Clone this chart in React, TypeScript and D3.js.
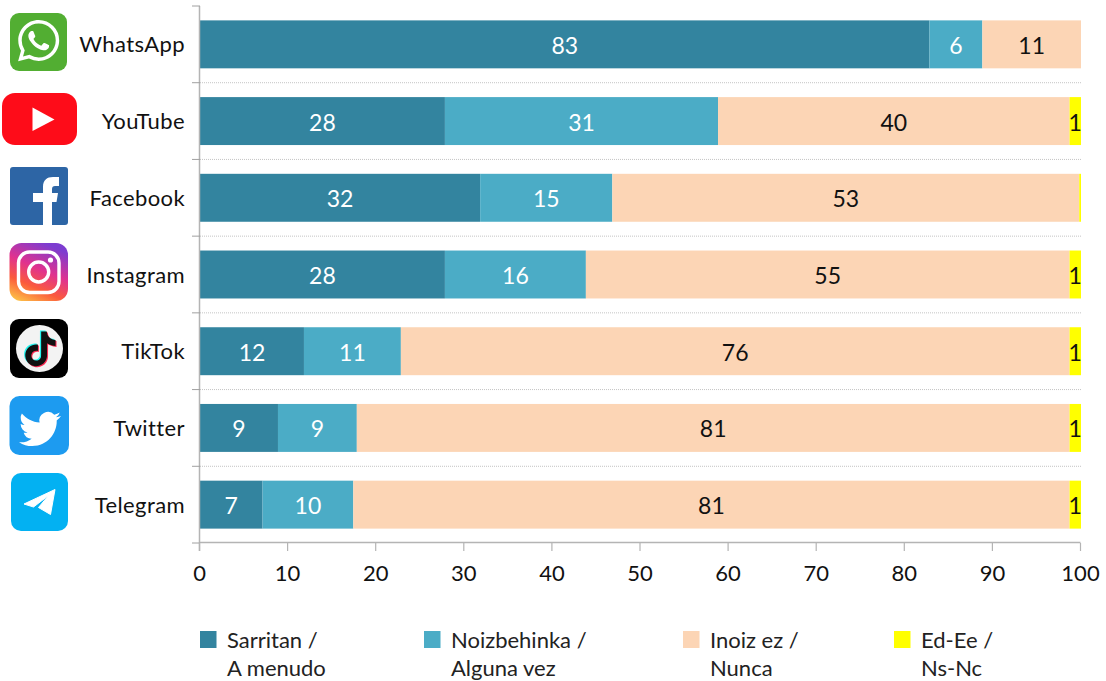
import React, { useEffect, useRef } from 'react';
import * as d3 from 'd3';

const apps = ['WhatsApp', 'YouTube', 'Facebook', 'Instagram', 'TikTok', 'Twitter', 'Telegram'];
const seriesKeys = ['often', 'sometimes', 'never', 'dontKnow'];
const often = [82.8, 27.8, 31.8, 27.8, 11.8, 8.85, 7.1];
const sometimes = [6, 31, 15, 16, 11, 8.95, 10.3];
const never = [11.2, 39.9, 53, 54.9, 75.9, 80.9, 81.3];
const dontKnow = [0, 1.3, 0.2, 1.3, 1.3, 1.3, 1.3];
const colors = ['#33849f', '#4bacc6', '#fcd5b5', '#ffff00'];
const labelColors = ['#ffffff', '#ffffff', '#111111', '#111111'];
const xTicks = d3.range(0, 101, 10);
const legendLines = [
  ['Sarritan /', 'A menudo'],
  ['Noizbehinka /', 'Alguna vez'],
  ['Inoiz ez /', 'Nunca'],
  ['Ed-Ee /', 'Ns-Nc'],
];
const legendX = [200, 424, 683, 894];

const WIDTH = 1106;
const HEIGHT = 681;
const PLOT = { left: 200, right: 1081, top: 6, bottom: 543 };
const FONT = 'Lato, "Open Sans", sans-serif';
const AXIS_GREY = '#b4b4b4';

const WA_PATH = 'M17.472 14.382c-.297-.149-1.758-.867-2.03-.967-.273-.099-.471-.148-.67.15-.197.297-.767.966-.94 1.164-.173.199-.347.223-.644.075-.297-.15-1.255-.463-2.39-1.475-.883-.788-1.48-1.761-1.653-2.059-.173-.297-.018-.458.13-.606.134-.133.298-.347.446-.52.149-.174.198-.298.298-.497.099-.198.05-.371-.025-.52-.075-.149-.669-1.612-.916-2.207-.242-.579-.487-.5-.669-.51-.173-.008-.371-.01-.57-.01-.198 0-.52.074-.792.372-.272.297-1.04 1.016-1.04 2.479 0 1.462 1.065 2.875 1.213 3.074.149.198 2.096 3.2 5.077 4.487.709.306 1.262.489 1.694.625.712.227 1.36.195 1.871.118.571-.085 1.758-.719 2.006-1.413.248-.694.248-1.289.173-1.413-.074-.124-.272-.198-.57-.347m-5.421 7.403h-.004a9.87 9.87 0 01-5.031-1.378l-.361-.214-3.741.982.998-3.648-.235-.374a9.86 9.86 0 01-1.51-5.26c.001-5.45 4.436-9.884 9.888-9.884 2.64 0 5.122 1.03 6.988 2.898a9.825 9.825 0 012.893 6.994c-.003 5.45-4.437 9.884-9.885 9.884m8.413-18.297A11.815 11.815 0 0012.05 0C5.495 0 .16 5.335.157 11.892c0 2.096.547 4.142 1.588 5.945L.057 24l6.305-1.654a11.882 11.882 0 005.683 1.448h.005c6.554 0 11.89-5.335 11.893-11.893a11.821 11.821 0 00-3.48-8.413z';
const TWITTER_PATH = 'M23.953 4.57a10 10 0 01-2.825.775 4.958 4.958 0 002.163-2.723c-.951.555-2.005.959-3.127 1.184a4.92 4.92 0 00-8.384 4.482C7.69 8.095 4.067 6.13 1.64 3.162a4.822 4.822 0 00-.666 2.475c0 1.71.87 3.213 2.188 4.096a4.904 4.904 0 01-2.228-.616v.06a4.923 4.923 0 003.946 4.827 4.996 4.996 0 01-2.212.085 4.936 4.936 0 004.604 3.417 9.867 9.867 0 01-6.102 2.105c-.39 0-.779-.023-1.17-.067a13.995 13.995 0 007.557 2.209c9.053 0 13.998-7.496 13.998-13.985 0-.21 0-.42-.015-.63A9.935 9.935 0 0024 4.59z';
const TIKTOK_PATH = 'M12.525.02c1.31-.02 2.61-.01 3.91-.02.08 1.53.63 3.09 1.75 4.17 1.12 1.11 2.7 1.62 4.24 1.79v4.03c-1.44-.05-2.89-.35-4.2-.97-.57-.26-1.1-.59-1.62-.93-.01 2.92.01 5.84-.02 8.75-.08 1.4-.54 2.79-1.35 3.94-1.31 1.92-3.58 3.17-5.91 3.21-1.43.08-2.86-.31-4.08-1.03-2.02-1.19-3.44-3.37-3.65-5.71-.02-.5-.03-1-.01-1.49.18-1.9 1.12-3.72 2.58-4.96 1.66-1.44 3.98-2.13 6.15-1.72.02 1.48-.04 2.96-.04 4.44-.99-.32-2.15-.23-3.02.37-.63.41-1.11 1.04-1.36 1.75-.21.51-.15 1.07-.14 1.61.24 1.64 1.82 3.02 3.5 2.87 1.12-.01 2.19-.66 2.77-1.61.19-.33.4-.67.41-1.06.1-1.79.06-3.57.07-5.36.01-4.03-.01-8.05.02-12.07z';

const Icons = () => (
  <g>
    <defs>
      <linearGradient id="ig" x1="0.15" y1="1" x2="0.6" y2="0">
        <stop offset="0" stopColor="#fdc046" />
        <stop offset="0.3" stopColor="#fb5b3c" />
        <stop offset="0.6" stopColor="#e0328f" />
        <stop offset="1" stopColor="#7d3cd0" />
      </linearGradient>
    </defs>

    {/* WhatsApp */}
    <g transform="translate(10,13)">
      <rect width="57" height="58" rx="9" fill="#52ae32" />
      <path d={WA_PATH} fill="#fff" transform="translate(8,7) scale(1.72)" />
    </g>

    {/* YouTube */}
    <g transform="translate(2,93)">
      <rect width="75" height="52" rx="13" fill="#fe0c19" />
      <path d="M30.5 14.5 L52.5 26.5 L30.5 38 Z" fill="#fff" />
    </g>

    {/* Facebook */}
    <g transform="translate(10,167)">
      <rect width="58" height="58" rx="3" fill="#2d65a5" />
      <path d="M33 58 V35 H23 V26 H33 V20 C33 13 37 10 43 10 H49 V19 H45 C43 19 42 20 42 22 V26 H48 L46.5 35 H42 V58 Z" fill="#fff" />
    </g>

    {/* Instagram */}
    <g transform="translate(9.5,243)">
      <rect width="58.5" height="58" rx="12" fill="url(#ig)" />
      <rect x="9" y="9" width="40.5" height="40.5" rx="11" fill="none" stroke="#fff" strokeWidth="3.4" />
      <circle cx="29.2" cy="29" r="10" fill="none" stroke="#fff" strokeWidth="3.4" />
      <circle cx="41" cy="17" r="2.6" fill="#fff" />
    </g>

    {/* TikTok */}
    <g transform="translate(10,319)">
      <rect width="58" height="59" rx="9" fill="#000" />
      <circle cx="29.5" cy="29.5" r="23.5" fill="#f3f3f3" />
      <path d={TIKTOK_PATH} fill="#25f4ee" transform="translate(11.8,11.4) scale(1.45)" />
      <path d={TIKTOK_PATH} fill="#fe2c55" transform="translate(14,13.4) scale(1.45)" />
      <path d={TIKTOK_PATH} fill="#111" transform="translate(13,12.4) scale(1.45)" />
    </g>

    {/* Twitter */}
    <g transform="translate(9.5,396)">
      <rect width="59.5" height="59" rx="10" fill="#1d9bf0" />
      <path d={TWITTER_PATH} fill="#fff" transform="translate(9.5,12) scale(1.75)" />
    </g>

    {/* Telegram */}
    <g transform="translate(11,473)">
      <rect width="57" height="58" rx="10" fill="#03b1f2" />
      <path d="M13 31 L44 16.5 L39.5 41.5 L27.5 34.5 L37.5 22.5 L22.5 34 Z" fill="#fff" stroke="#fff" strokeWidth="1" strokeLinejoin="round" />
    </g>
  </g>
);

const App = () => {
  const chartRef = useRef<SVGGElement | null>(null);

  useEffect(() => {
    const g = d3.select(chartRef.current);
    g.selectAll('*').remove();

    const rows = apps.map((app, i) => ({
      app,
      often: often[i],
      sometimes: sometimes[i],
      never: never[i],
      dontKnow: dontKnow[i],
    }));

    const x = d3.scaleLinear().domain([0, 100]).range([PLOT.left, PLOT.right]);
    const y = d3.scaleBand().domain(apps).range([PLOT.top, PLOT.bottom]).paddingInner(0.375).paddingOuter(0.1875);
    const bandStep = y.step();
    const boundaries = d3.range(0, apps.length + 1).map(i => PLOT.top + i * bandStep);

    // dotted separators between the categories
    g.append('g')
      .selectAll('line')
      .data(boundaries.slice(1, -1))
      .enter()
      .append('line')
      .attr('x1', PLOT.left)
      .attr('x2', PLOT.right)
      .attr('y1', d => d)
      .attr('y2', d => d)
      .attr('stroke', '#c4c4c4')
      .attr('stroke-width', 1)
      .attr('stroke-dasharray', '1 1');

    const stacked = d3.stack<any>().keys(seriesKeys)(rows);

    stacked.forEach((layer, s) => {
      const layerG = g.append('g');
      layerG.selectAll('rect')
        .data(layer)
        .enter()
        .append('rect')
        .attr('x', d => x(d[0]))
        .attr('y', d => y(d.data.app)!)
        .attr('width', d => x(d[1]) - x(d[0]))
        .attr('height', y.bandwidth())
        .attr('fill', colors[s]);
    });

    // value labels go on top of every bar, the "1" can overflow its segment
    stacked.forEach((layer, s) => {
      g.append('g')
        .selectAll('text')
        .data(layer.filter(d => d[1] - d[0] >= 0.5))
        .enter()
        .append('text')
        .attr('x', d => x((d[0] + d[1]) / 2))
        .attr('y', d => y(d.data.app)! + y.bandwidth() / 2 + 9.5)
        .attr('text-anchor', 'middle')
        .attr('font-family', FONT)
        .attr('font-size', 23)
        .attr('fill', labelColors[s])
        .text(d => Math.round(d[1] - d[0]));
    });

    // category axis
    g.append('line')
      .attr('x1', PLOT.left - 0.5)
      .attr('x2', PLOT.left - 0.5)
      .attr('y1', PLOT.top)
      .attr('y2', PLOT.bottom + 8)
      .attr('stroke', AXIS_GREY)
      .attr('stroke-width', 1.5);

    g.append('g')
      .selectAll('line')
      .data(boundaries)
      .enter()
      .append('line')
      .attr('x1', PLOT.left - 8)
      .attr('x2', PLOT.left)
      .attr('y1', d => d)
      .attr('y2', d => d)
      .attr('stroke', '#a0a0a0')
      .attr('stroke-width', 1);

    g.append('g')
      .selectAll('text')
      .data(apps)
      .enter()
      .append('text')
      .attr('x', PLOT.left - 15)
      .attr('y', d => y(d)! + y.bandwidth() / 2 + 8)
      .attr('text-anchor', 'end')
      .attr('font-family', FONT)
      .attr('font-size', 22)
      .attr('letter-spacing', 0.4)
      .attr('fill', '#111')
      .text(d => d);

    // value axis
    const xAxis = d3.axisBottom(x).tickValues(xTicks).tickSize(8).tickSizeOuter(0).tickPadding(14).offset(-0.5);
    const axisG = g.append('g').attr('transform', `translate(0,${PLOT.bottom})`).call(xAxis);
    axisG.select('.domain').attr('stroke', AXIS_GREY).attr('stroke-width', 1.5);
    axisG.selectAll('.tick line').attr('stroke', AXIS_GREY).attr('stroke-width', 1.2);
    axisG.selectAll('.tick text')
      .attr('font-family', FONT)
      .attr('font-size', 22)
      .attr('fill', '#111');

    // legend
    legendLines.forEach((lines, i) => {
      const item = g.append('g').attr('transform', `translate(${legendX[i]},631)`);
      item.append('rect').attr('width', 16.5).attr('height', 17).attr('fill', colors[i]);
      lines.forEach((line, j) => {
        item.append('text')
          .attr('x', 27)
          .attr('y', 17 + j * 28)
          .attr('font-family', FONT)
          .attr('font-size', 22)
          .attr('fill', '#222')
          .text(line);
      });
    });
  }, []);

  return (
    <svg width={WIDTH} height={HEIGHT} style={{ position: 'absolute', left: 0, top: 0, background: '#fff' }}>
      <Icons />
      <g ref={chartRef} />
    </svg>
  );
};

export default App;
